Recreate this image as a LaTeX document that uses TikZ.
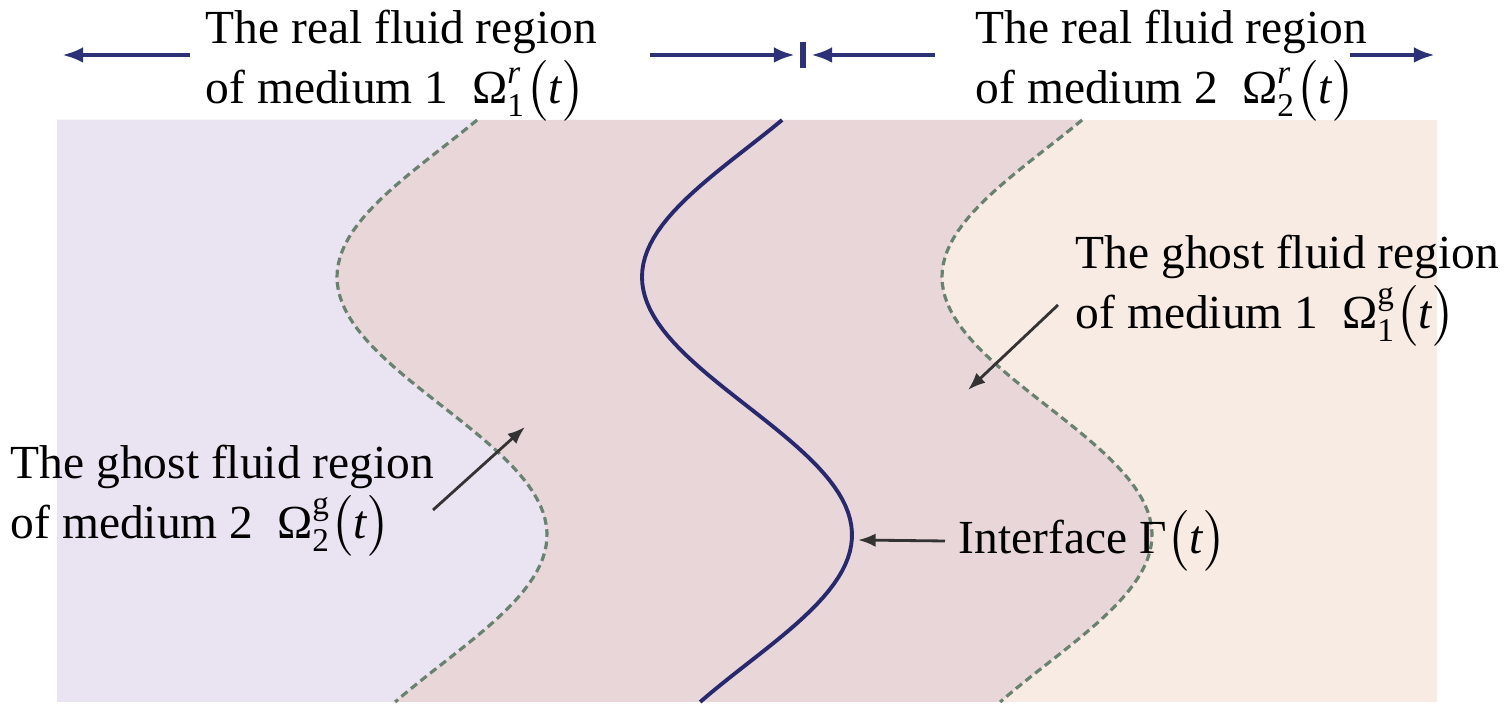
\documentclass[tikz,border=0pt]{standalone}
\usepackage{amsmath}
\usepackage{fontspec}
\setmainfont{Liberation Serif}
\usetikzlibrary{arrows.meta,positioning,calc}
\definecolor{MediumOne}{RGB}{234,227,241}
\definecolor{MixZone}{RGB}{232,214,217}
\definecolor{MediumTwo}{RGB}{248,235,227}
\definecolor{IfaceBlue}{RGB}{40,40,110}
\definecolor{GhostLine}{RGB}{105,130,112}
\definecolor{ArrowBlue}{RGB}{45,50,120}
% x position of the wavy boundary at height \t, shifted by #1
\newcommand{\waveX}[1]{#1+442-105*cos((\t-277)/258*180)}
\newcommand{\reg}[2]{$\text{Ω}_{\text{#1}}^{#2}\bigl(\textit{t}\bigr)$}

\begin{document}
\begin{tikzpicture}[x=0.01cm,y=-0.01cm,
    lbl/.style={inner sep=0pt,align=left,anchor=west,font=\fontsize{13.5}{17}\selectfont},
    toparrow/.style={ArrowBlue,line width=1.2pt,-{Latex[length=6pt,width=4.5pt]}},
    ptr/.style={black!80,line width=0.8pt,-{Latex[length=5pt,width=3.8pt]}},
    ghost/.style={GhostLine,line width=0.9pt,dash pattern=on 2.2pt off 1.3pt}]
  \useasboundingbox (0,0) rectangle (1511,704);

  % regions
  \fill[MediumTwo] (57,120) rectangle (1437,702);
  \fill[MixZone] (57,120) -- plot[domain=120:702,samples=90,variable=\t] ({\waveX{605}},\t) -- (57,702) -- cycle;
  \fill[MediumOne] (57,120) -- plot[domain=120:702,samples=90,variable=\t] ({\waveX{0}},\t) -- (57,702) -- cycle;

  % boundaries
  \foreach \s in {0,605}
    \draw[ghost] plot[domain=120:702,samples=90,variable=\t] ({\waveX{\s}},\t);
  \draw[IfaceBlue,line width=1.1pt] plot[domain=120:702,samples=90,variable=\t] ({\waveX{305}},\t);

  % labels
  \node[lbl] (realL) at (205,66) {The real fluid region\\of medium 1~~\reg{1}{\textit{r}}};
  \node[lbl] (realR) at (975,66) {The real fluid region\\of medium 2~~\reg{2}{\textit{r}}};
  \node[lbl] (ghostR) at (1075,291) {The ghost fluid region\\of medium 1~~\reg{1}{\text{g}}};
  \node[lbl] (ghostL) at (10,501) {The ghost fluid region\\of medium 2~~\reg{2}{\text{g}}};
  \node[lbl] (iface) at (958,541) {Interface Γ$\bigl(\textit{t}\bigr)$};

  % top arrows
  \coordinate (tipL) at (62,55);
  \coordinate (tailL) at (190,55);
  \coordinate (tick) at (803,55);
  \coordinate (tailM1) at (650,55);
  \coordinate (tailM2) at (935,55);
  \coordinate (tailR) at (1350,55);
  \coordinate (tipR) at (1435,55);
  \draw[toparrow] (tailL) -- (tipL);
  \draw[toparrow] (tailM1) -- ([xshift=-0.08cm]tick);
  \draw[toparrow] (tailM2) -- ([xshift=0.08cm]tick);
  \draw[ArrowBlue,line width=1.5pt] ([yshift=0.13cm]tick) -- ([yshift=-0.13cm]tick);
  \draw[toparrow] (tailR) -- (tipR);

  % pointers
  \coordinate (ghostLtail) at (433,510);
  \coordinate (ghostLtip) at (525,427);
  \coordinate (ghostRtail) at (1058,305);
  \coordinate (ghostRtip) at (968,390);
  \coordinate (ifaceTip) at (858,540);
  \draw[ptr] (ghostLtail) -- (ghostLtip);
  \draw[ptr] (ghostRtail) -- (ghostRtip);
  \draw[ptr] ([xshift=-0.13cm]iface.west) -- (ifaceTip);
\end{tikzpicture}
\end{document}
